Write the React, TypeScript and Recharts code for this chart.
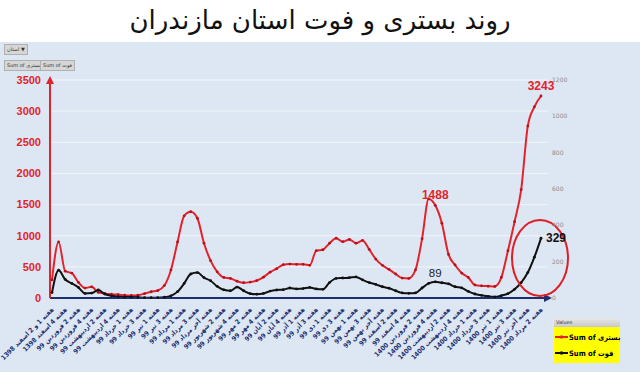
import React from "react";
import {
  LineChart,
  Line,
  XAxis,
  YAxis,
  CartesianGrid,
  Legend,
  LabelList,
  ReferenceDot,
} from "recharts";

const weeks = [
  "هفته 1 و 2 اسفند 1398", "هفته 3 اسفند 1398", "هفته 4 اسفند 1398",
  "هفته 1 فروردین 99", "هفته 2 فروردین 99", "هفته 3 فروردین 99", "هفته 4 فروردین 99",
  "هفته 1 اردیبهشت 99", "هفته 2 اردیبهشت 99", "هفته 3 اردیبهشت 99", "هفته 4 اردیبهشت 99", "هفته آخر اردیبهشت 99",
  "هفته 1 خرداد 99", "هفته 2 خرداد 99", "هفته 3 خرداد 99", "هفته 4 خرداد 99",
  "هفته 1 تیر 99", "هفته 2 تیر 99", "هفته 3 تیر 99", "هفته 4 تیر 99",
  "هفته 1 مرداد 99", "هفته 2 مرداد 99", "هفته 3 مرداد 99", "هفته 4 مرداد 99", "هفته آخر مرداد 99",
  "هفته 1 شهریور 99", "هفته 2 شهریور 99", "هفته 3 شهریور 99", "هفته 4 شهریور 99",
  "هفته 1 مهر 99", "هفته 2 مهر 99", "هفته 3 مهر 99", "هفته 4 مهر 99",
  "هفته 1 آبان 99", "هفته 2 آبان 99", "هفته 3 آبان 99", "هفته 4 آبان 99", "هفته آخر آبان 99",
  "هفته 1 آذر 99", "هفته 2 آذر 99", "هفته 3 آذر 99", "هفته 4 آذر 99",
  "هفته 1 دی 99", "هفته 2 دی 99", "هفته 3 دی 99", "هفته 4 دی 99",
  "هفته 1 بهمن 99", "هفته 2 بهمن 99", "هفته 3 بهمن 99", "هفته 4 بهمن 99", "هفته آخر بهمن 99",
  "هفته 1 اسفند 99", "هفته 2 اسفند 99", "هفته 3 اسفند 99", "هفته 4 اسفند 99",
  "هفته 1 فروردین 1400", "هفته 2 فروردین 1400", "هفته 3 فروردین 1400", "هفته 4 فروردین 1400",
  "هفته 1 اردیبهشت 1400", "هفته 2 اردیبهشت 1400", "هفته 3 اردیبهشت 1400", "هفته 4 اردیبهشت 1400", "هفته آخر اردیبهشت 1400",
  "هفته 1 خرداد 1400", "هفته 2 خرداد 1400", "هفته 3 خرداد 1400", "هفته 4 خرداد 1400",
  "هفته 1 تیر 1400", "هفته 2 تیر 1400", "هفته 3 تیر 1400", "هفته 4 تیر 1400", "هفته آخر تیر 1400",
  "هفته 1 مرداد 1400", "هفته 2 مرداد 1400",
];

// بستری (left axis)
const hospitalized = [
  290, 900, 430, 400, 250, 160, 180, 90, 70, 60,
  55, 45, 40, 45, 70, 100, 120, 200, 450, 900,
  1320, 1385, 1280, 880, 600, 420, 330, 315, 270, 245,
  255, 280, 335, 415, 470, 535, 545, 540, 540, 525,
  760, 775, 880, 960, 905, 940, 880, 925, 780, 625,
  525, 460, 385, 320, 315, 450, 950, 1590, 1488, 1200,
  700, 530, 400, 330, 210, 195, 190, 185, 330, 760,
  1225, 1740, 2760, 3070, 3243,
];

// فوت (right axis)
const deaths = [
  30, 153, 102, 80, 58, 25, 27, 44, 22, 12,
  8, 5, 5, 4, 2, 2, 2, 4, 12, 35,
  80, 132, 140, 112, 95, 64, 45, 40, 60, 40,
  24, 21, 25, 38, 44, 46, 55, 50, 52, 58,
  50, 48, 85, 108, 110, 112, 116, 100, 85, 75,
  62, 54, 40, 28, 26, 28, 55, 80, 89, 84,
  78, 62, 56, 36, 22, 15, 9, 6, 13, 24,
  48, 85, 140, 225, 329,
];

const leftTicks = [0, 500, 1000, 1500, 2000, 2500, 3000, 3500];
const rightTicks = [0, 200, 400, 600, 800, 1000, 1200];
const topLabelWeeks = [58, 74];

const RED = "#e3232c";
const BLACK = "#111111";
const NAVY = "#1d2f6f";
const FA = "'DejaVu Sans', sans-serif";
const FA_COND = "'DejaVu Sans Condensed', 'DejaVu Sans', sans-serif";
const NARROW = "'Liberation Sans Narrow', 'Liberation Sans', sans-serif";

const data = weeks.map((week, i) => ({
  week,
  hosp: hospitalized[i],
  death: deaths[i],
  hospLabel: topLabelWeeks.includes(i) ? hospitalized[i] : null,
  deathTop: i === 58 ? deaths[i] : null,
  deathRight: i === 74 ? deaths[i] : null,
}));

const WeekTick = ({ x, y, payload }: any) => (
  <g transform={`translate(${x},${y})`}>
    <text
      transform="rotate(-45)"
      textAnchor="end"
      dy={3}
      fontSize={6.6}
      fontWeight="bold"
      fill={NAVY}
      fontFamily={FA_COND}
    >
      {payload.value}
    </text>
  </g>
);

const LegendBox = () => (
  <div style={{ width: 66, fontFamily: FA }}>
    <div
      style={{
        height: 9,
        background: "linear-gradient(#e8e8e8, #c8c8c8)",
        fontSize: 5,
        lineHeight: "9px",
        paddingLeft: 2,
        color: "#333",
      }}
    >
      Values
    </div>
    <div style={{ background: "#ffff00", height: 36, paddingTop: 2, boxSizing: "border-box" }}>
      {[
        { c: RED, t: "بستری" },
        { c: BLACK, t: "فوت" },
      ].map((e) => (
        <div key={e.t} style={{ display: "flex", alignItems: "center", height: 16 }}>
          <svg width={15} height={8} style={{ flexShrink: 0 }}>
            <line x1={1} y1={4} x2={14} y2={4} stroke={e.c} strokeWidth={2} />
            <circle cx={7.5} cy={4} r={1.8} fill={e.c} />
          </svg>
          <span style={{ fontSize: 7.5, fontWeight: "bold", whiteSpace: "nowrap", fontFamily: FA_COND }}>
            Sum of {e.t}
          </span>
        </div>
      ))}
    </div>
  </div>
);

const btn: React.CSSProperties = {
  position: "absolute",
  height: 9,
  fontSize: 5,
  lineHeight: "9px",
  background: "#d6d6d6",
  border: "1px solid #b0b0b0",
  padding: "0 2px",
  color: "#333",
  fontFamily: FA,
  whiteSpace: "nowrap",
};

export default function App() {
  return (
    <div style={{ position: "relative", width: 640, height: 372, background: "#ffffff", overflow: "hidden" }}>
      <style>{`body{margin:0}`}</style>
      <svg width={0} height={0} style={{ position: "absolute" }}>
        <defs>
          <marker id="arrRed" viewBox="0 0 10 10" refX="5" refY="5" markerWidth="4" markerHeight="4" orient="auto-start-reverse">
            <path d="M0,0 L10,5 L0,10 z" fill={RED} />
          </marker>
          <marker id="arrNavy" viewBox="0 0 10 10" refX="5" refY="5" markerWidth="4" markerHeight="4" orient="auto">
            <path d="M0,0 L10,5 L0,10 z" fill={NAVY} />
          </marker>
        </defs>
      </svg>
      <div
        style={{
          position: "absolute",
          top: 0,
          left: 0,
          width: 640,
          height: 42,
          textAlign: "center",
          fontFamily: FA,
          fontSize: 26,
          lineHeight: "40px",
          color: "#111",
        }}
      >
        روند بستری و فوت استان مازندران
      </div>
      <div style={{ position: "absolute", top: 42, left: 0, width: 640, height: 330, background: "#dde7f3" }}>
        <LineChart width={640} height={330} data={data} margin={{ top: 38, right: 0, bottom: 0, left: 0 }}>
          <CartesianGrid yAxisId="left" horizontal vertical={false} stroke="#f2f5fa" strokeWidth={1} />
          <XAxis
            dataKey="week"
            interval={1}
            height={74}
            padding={{ left: 2, right: 7 }}
            tick={<WeekTick />}
            tickLine={false}
            tickSize={6}
            tickMargin={4}
            axisLine={{ stroke: NAVY, strokeWidth: 2, markerEnd: "url(#arrNavy)" }}
          />
          <YAxis
            yAxisId="left"
            domain={[0, 3500]}
            ticks={leftTicks}
            width={50}
            tickLine={false}
            tickSize={6}
            tickMargin={3}
            tick={{ fill: RED, fontSize: 11, fontWeight: "bold", fontFamily: NARROW }}
            axisLine={{ stroke: RED, strokeWidth: 2, markerStart: "url(#arrRed)" }}
          />
          <YAxis
            yAxisId="right"
            orientation="right"
            domain={[0, 1200]}
            ticks={rightTicks}
            width={92}
            tickLine={false}
            axisLine={false}
            tickSize={2}
            tickMargin={2}
            tick={{ fill: "#8a8a8a", fontSize: 6, fontFamily: FA, textAnchor: "start" }}
          />
          <Line
            yAxisId="left"
            type="monotone"
            dataKey="hosp"
            name="Sum of بستری"
            stroke={RED}
            strokeWidth={2}
            dot={{ r: 1.4, fill: "#b5121b", stroke: "none" }}
            isAnimationActive={false}
          >
            <LabelList
              dataKey="hospLabel"
              position="top"
              offset={6}
              fill={RED}
              fontSize={12}
              fontWeight="bold"
              fontFamily={NARROW}
            />
          </Line>
          <Line
            yAxisId="right"
            type="monotone"
            dataKey="death"
            name="Sum of فوت"
            stroke={BLACK}
            strokeWidth={2}
            dot={{ r: 1.4, fill: BLACK, stroke: "none" }}
            isAnimationActive={false}
          >
            <LabelList dataKey="deathTop" position="top" offset={5} fill="#222" fontSize={11.5} fontFamily={NARROW} />
            <LabelList
              dataKey="deathRight"
              position="right"
              offset={5}
              fill={BLACK}
              fontSize={12}
              fontWeight="bold"
              fontFamily={NARROW}
            />
          </Line>
          <ReferenceDot
            x={weeks[74]}
            y={220}
            yAxisId="right"
            ifOverflow="visible"
            shape={(p: any) => (
              <ellipse cx={p.cx - 1} cy={p.cy} rx={28} ry={38} fill="none" stroke="#e01e26" strokeWidth={2} />
            )}
          />
          <Legend
            verticalAlign="middle"
            layout="horizontal"
            content={<LegendBox />}
            wrapperStyle={{ left: 554, top: 276, width: 66, height: 45 }}
          />
        </LineChart>
      </div>
      <div style={{ ...btn, left: 4, top: 44 }}>استان ▼</div>
      <div style={{ ...btn, left: 4, top: 60 }}>Sum of بستری</div>
      <div style={{ ...btn, left: 40, top: 60 }}>Sum of فوت</div>
    </div>
  );
}
